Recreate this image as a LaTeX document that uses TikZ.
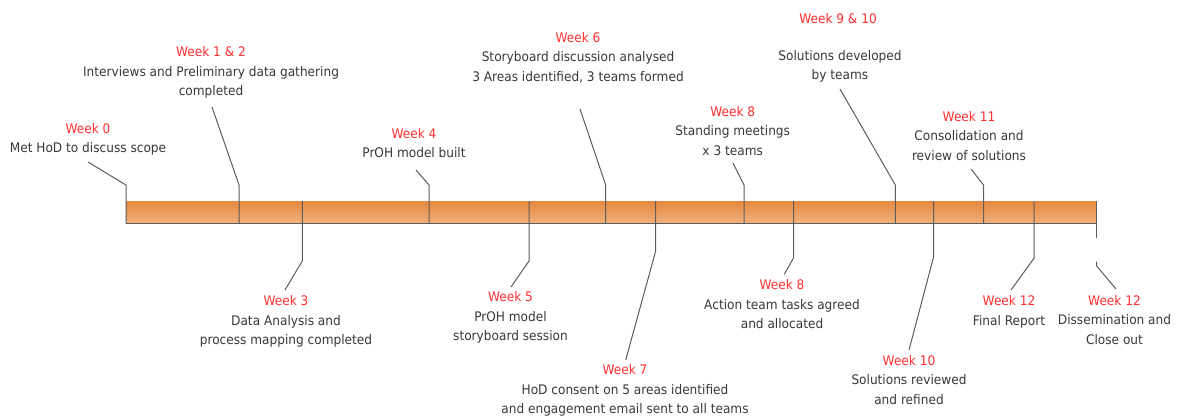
\documentclass[tikz,border=0pt]{standalone}
\usepackage{fontspec}
\setmainfont{DejaVu Sans}[FakeStretch=0.92]
\definecolor{ink}{HTML}{383838}
\definecolor{wkred}{HTML}{FF2E2E}
\definecolor{leadgray}{HTML}{5C5C5C}
\definecolor{bartop}{HTML}{E5893F}
\definecolor{barbot}{HTML}{F1B07C}
\newcommand{\wk}[1]{\textcolor{wkred}{#1}}
\begin{document}
\begin{tikzpicture}[x=1pt,y=-1pt,
  lbl/.style={align=center, inner sep=0pt, text=ink, font=\fontsize{13.2}{19.5}\selectfont},
  leader/.style={draw=leadgray, line width=1pt},
  barbox/.style={top color=bartop, bottom color=barbot, draw=none, inner sep=0pt,
    minimum width=970.7pt, minimum height=22pt},
]
\useasboundingbox (0,0) rectangle (1180,420);

% timeline bar
\node[barbox] (bar) at (611.35,212) {};
\draw[leader] (bar.south west) -- (bar.south east);

% events above the bar
\node[lbl] (w0)  at (88,139.5)  {\wk{Week 0}\\Met HoD to discuss scope};
\node[lbl] (w12) at (211,72.5)  {\wk{Week 1 \& 2}\\Interviews and Preliminary data gathering\\completed};
\node[lbl] (w4)  at (414,143)   {\wk{Week 4}\\PrOH model built};
\node[lbl] (w6)  at (578,57.5)  {\wk{Week 6}\\Storyboard discussion analysed\\3 Areas identified, 3 teams formed};
\node[lbl] (w8a) at (732.7,131) {\wk{Week 8}\\Standing meetings\\x 3 teams};
\node[lbl] (w910h) at (838,18.3) {\wk{Week 9 \& 10}};
\node[lbl] (w910) at (840,66.3) {Solutions developed\\by teams};
\node[lbl] (w11) at (969,136)   {\wk{Week 11}\\Consolidation and\\review of solutions};

% events below the bar
\node[lbl] (w3)  at (286,321.4)   {\wk{Week 3}\\Data Analysis and\\process mapping completed};
\node[lbl] (w5)  at (510.5,317.5) {\wk{Week 5}\\PrOH model\\storyboard session};
\node[lbl] (w7)  at (625,390.5)   {\wk{Week 7}\\HoD consent on 5 areas identified\\and engagement email sent to all teams};
\node[lbl] (w8b) at (782,304.5)   {\wk{Week 8}\\Action team tasks agreed\\and allocated};
\node[lbl] (w10) at (909,379.7)   {\wk{Week 10}\\Solutions reviewed\\and refined};
\node[lbl] (w12f) at (1009,312)   {\wk{Week 12}\\Final Report};
\node[lbl] (w12d) at (1114.5,320) {\wk{Week 12}\\Dissemination and\\Close out};

% leader lines: tick through the bar, elbow, end near the text
\coordinate (b0) at (126,223);    \coordinate (k0) at (126,185);    \coordinate (e0) at (88,162);
\coordinate (b12) at (239,223);   \coordinate (k12) at (239,185);   \coordinate (e12) at (212,107);
\coordinate (b4) at (429,223);    \coordinate (k4) at (429,185);    \coordinate (e4) at (416,170);
\coordinate (b6) at (605.7,223);  \coordinate (k6) at (605.7,185);  \coordinate (e6) at (580,109);
\coordinate (b8a) at (744,223);   \coordinate (k8a) at (744,185);   \coordinate (e8a) at (733,163);
\coordinate (b910) at (895.3,223);\coordinate (k910) at (895.3,185);\coordinate (e910) at (840,89);
\coordinate (b11) at (983.5,223); \coordinate (k11) at (983.5,185); \coordinate (e11) at (971,169);

\coordinate (b3) at (302.3,201);  \coordinate (k3) at (302.3,261);  \coordinate (e3) at (285,290);
\coordinate (b5) at (529,201);    \coordinate (k5) at (529,261);    \coordinate (e5) at (511,287);
\coordinate (b7) at (655.7,201);  \coordinate (k7) at (655.7,251);  \coordinate (e7) at (625.7,360);
\coordinate (b8b) at (793.5,201); \coordinate (k8b) at (793.5,258); \coordinate (e8b) at (784.3,274.3);
\coordinate (b10) at (933.5,201); \coordinate (k10) at (933.5,257.3); \coordinate (e10) at (909,350);
\coordinate (b12f) at (1034,201); \coordinate (k12f) at (1034,258.3); \coordinate (e12f) at (1011,290);
\coordinate (b12d) at (1096.7,201); \coordinate (g12d) at (1096.7,238.3);
\coordinate (h12d) at (1096.7,261.7); \coordinate (k12d) at (1096.7,266); \coordinate (e12d) at (1116,289);

\foreach \t in {0,12,4,6,8a,910,11,3,5,7,8b,10,12f}
  \draw[leader] (b\t) -- (k\t) -- (e\t);
\draw[leader] (b12d) -- (g12d);
\draw[leader] (h12d) -- (k12d) -- (e12d);
\end{tikzpicture}
\end{document}
